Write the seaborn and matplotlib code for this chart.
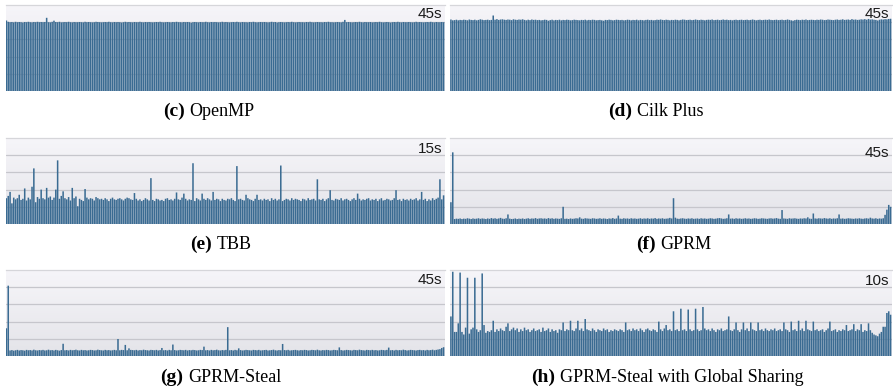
import numpy as np
import pandas as pd
import matplotlib
matplotlib.use("Agg")
import matplotlib.pyplot as plt
import seaborn as sns
from matplotlib.colors import LinearSegmentedColormap

sns.set_theme(style="white")

# ---------------- data (seconds per worker, 240 workers) ----------------
openmp = [
36.9,36.2,36.0,36.1,35.9,36.2,36.0,36.1,36.0,35.8,36.1,36.0,36.2,36.0,35.9,36.1,36.0,36.2,36.0,36.1,
36.0,36.1,38.3,36.0,35.9,36.2,36.8,36.1,36.0,36.2,35.9,36.0,36.1,36.0,36.2,36.0,35.9,36.1,36.0,36.0,
36.1,36.0,35.9,36.2,36.0,36.1,36.0,35.9,36.0,36.2,36.1,36.0,35.9,36.0,36.1,36.0,36.2,36.0,35.9,36.1,
36.0,36.1,36.0,35.8,36.0,36.2,36.0,36.1,36.0,35.9,36.1,36.0,36.0,36.2,36.0,35.9,36.1,36.0,36.1,36.0,
35.9,36.0,36.1,36.0,36.2,36.0,35.9,36.0,36.1,36.0,35.9,36.1,36.0,36.2,36.0,36.0,35.9,36.1,36.0,36.1,
36.0,35.7,36.0,36.1,36.0,35.9,36.1,36.0,36.0,36.2,36.0,35.9,36.1,36.0,36.1,36.0,35.9,36.0,36.2,36.0,
36.1,36.0,35.9,36.0,36.1,36.0,36.2,36.0,35.9,36.1,36.0,36.0,35.9,36.1,36.0,36.2,36.0,35.9,36.0,36.1,
36.0,36.1,36.0,35.9,36.0,36.2,36.0,36.1,35.8,36.0,36.1,36.0,35.9,36.0,36.1,36.0,36.2,36.0,35.9,36.0,
36.1,36.0,36.0,35.9,36.1,36.0,36.2,36.0,35.9,36.0,36.1,36.0,36.0,35.9,36.1,36.0,36.2,36.0,36.0,35.9,
36.0,36.1,36.0,35.9,36.2,37.2,36.0,36.1,36.0,35.9,36.0,36.1,36.0,36.2,36.0,35.9,36.1,36.0,36.0,36.1,
35.9,36.0,36.1,36.0,36.2,36.0,35.9,36.0,36.1,36.0,35.8,36.0,36.1,36.0,36.2,36.0,35.9,36.1,36.0,36.0,
36.1,36.0,35.9,36.0,36.2,36.0,36.1,36.0,35.9,36.0,36.1,36.0,36.2,36.0,35.9,36.1,36.0,36.0,36.1,36.0]

cilk = [
37.4,37.0,37.1,37.3,37.0,37.2,37.1,37.3,37.2,37.0,37.4,37.2,37.1,37.3,37.0,37.2,37.5,37.3,37.1,37.2,
37.3,37.1,37.2,39.5,37.3,37.6,37.2,37.4,37.5,37.3,37.2,37.4,37.3,37.1,37.5,37.3,37.2,37.4,37.3,37.5,
37.2,37.0,37.3,37.1,37.4,37.2,37.3,37.1,37.2,37.0,37.1,37.3,37.2,36.8,37.1,37.3,37.0,37.2,37.1,37.3,
37.0,37.2,37.1,37.3,37.2,37.0,37.1,37.3,37.2,37.1,37.0,37.2,37.1,37.3,37.0,37.2,37.1,37.3,37.2,37.0,
37.1,37.2,37.0,36.8,37.2,37.1,37.3,37.2,37.0,37.1,37.3,37.2,37.1,37.2,37.0,37.1,37.3,37.2,37.0,37.2,
37.1,37.3,37.0,37.2,37.1,37.0,37.2,37.3,37.1,37.2,37.0,37.1,37.3,37.2,37.4,37.2,37.1,37.3,37.2,37.0,
37.2,37.1,37.3,37.2,37.0,37.2,37.4,37.3,37.1,37.2,37.3,37.1,37.2,37.4,37.2,37.1,37.3,37.2,37.0,37.2,
37.3,37.2,37.4,37.1,37.2,37.3,37.1,37.2,37.4,37.2,37.3,37.1,37.2,37.0,37.2,37.3,37.1,37.2,37.3,37.1,
37.2,37.3,37.1,37.2,37.4,37.2,37.0,37.2,37.3,37.1,37.2,37.3,37.2,37.4,37.2,37.1,37.2,37.3,37.1,37.2,
37.3,37.1,37.2,37.4,37.2,37.0,36.8,37.1,37.3,37.2,37.1,37.3,37.2,37.4,37.1,37.2,37.3,37.2,37.1,37.3,
37.2,37.4,37.3,37.1,37.2,37.4,37.3,37.2,37.1,37.3,37.4,37.2,37.3,37.5,37.2,37.3,37.4,37.2,37.6,37.3,
37.4,37.2,37.3,37.5,37.4,37.6,37.3,37.7,37.4,37.5,37.3,37.2,36.9,37.3,37.5,37.4,37.6,37.5,37.7,37.8]

tbb = [
4.5,4.9,5.6,3.6,4.6,4.3,4.5,5.1,4.2,4.4,6.2,4.1,4.6,4.3,6.5,9.7,3.8,4.7,4.4,6.0,
4.5,4.3,6.3,4.6,4.8,4.2,4.6,6.0,11.1,4.4,4.9,5.7,4.5,4.3,4.7,4.1,6.3,4.5,4.8,3.1,
4.4,4.2,4.0,6.1,4.6,4.3,4.5,4.4,4.1,4.7,4.5,4.3,4.4,4.2,4.5,4.3,4.0,4.4,4.6,4.3,
4.2,4.4,4.5,4.3,4.1,4.4,4.6,4.5,4.3,4.2,5.4,4.4,4.1,4.3,4.0,4.2,4.5,4.3,4.1,8.0,
4.2,4.0,4.4,4.3,4.1,4.2,4.0,4.4,4.5,4.2,4.3,4.1,4.4,5.5,4.3,4.2,4.6,5.3,4.4,4.1,
4.3,4.2,10.6,4.0,4.5,4.3,4.1,5.3,4.4,4.2,4.5,4.3,4.1,5.6,4.2,4.4,4.3,4.0,4.4,4.2,
4.1,4.4,4.3,4.5,4.2,4.0,10.1,4.3,4.4,4.2,4.1,5.1,4.5,4.3,4.2,4.0,4.4,5.1,4.2,4.3,
4.1,4.4,4.2,4.3,4.0,4.5,4.2,4.4,4.1,4.3,10.2,4.0,4.2,4.4,4.3,4.1,4.5,4.2,4.4,4.3,
4.2,4.0,4.4,4.3,4.1,4.5,4.2,4.3,4.4,4.1,7.8,4.3,4.2,4.4,4.0,4.3,4.5,5.9,4.2,4.1,
4.4,4.3,4.2,4.5,4.1,4.3,4.4,4.2,4.0,4.3,4.5,4.2,5.3,4.4,4.1,4.3,4.2,4.4,4.5,4.1,
4.3,4.2,4.4,4.0,4.3,4.5,4.1,4.2,4.4,4.3,4.1,4.2,4.5,5.9,4.2,4.3,4.0,4.4,4.2,4.3,
4.1,4.4,4.2,4.3,4.5,4.1,4.3,5.6,4.2,4.4,4.0,4.3,4.1,4.5,4.2,4.4,4.6,7.8,4.3,5.0]

gprm = [
11.4,37.5,2.6,2.8,2.7,2.9,2.6,2.8,2.7,3.0,2.8,2.6,2.9,2.7,2.8,3.0,2.7,2.9,2.8,2.6,
2.9,2.7,3.1,2.8,3.0,2.7,2.9,3.2,2.8,2.7,3.0,5.0,2.8,2.6,2.7,2.9,2.6,2.8,2.7,2.9,
2.6,2.8,3.0,2.7,2.9,2.8,3.1,2.7,2.9,3.0,2.8,2.9,2.7,3.1,2.8,3.0,2.7,2.9,2.8,2.7,
3.0,9.0,2.7,2.8,2.6,2.9,2.7,2.8,3.0,2.9,3.5,2.8,2.7,3.0,2.9,2.8,2.7,3.0,2.9,2.7,
2.8,3.0,2.7,2.9,2.8,2.6,2.9,2.8,3.1,2.7,2.9,4.4,2.8,2.7,3.0,2.8,2.9,2.7,3.0,2.8,
2.9,2.7,2.8,3.0,2.7,2.9,2.8,3.0,2.7,2.9,2.8,3.1,2.7,2.9,2.8,3.0,2.7,2.8,2.9,3.2,
2.9,13.5,3.3,2.8,2.7,2.9,3.0,2.8,2.7,2.9,2.8,3.0,2.7,2.8,2.9,2.7,3.0,2.8,2.9,2.7,
2.8,3.0,2.9,2.7,2.8,3.0,3.1,2.9,2.7,2.8,3.0,5.0,2.8,2.9,2.7,3.0,2.8,2.9,2.7,2.8,
3.0,2.8,2.9,2.7,2.8,3.0,2.9,2.7,2.8,3.0,2.9,2.8,2.7,2.9,3.0,2.8,2.9,3.1,2.8,2.7,
7.3,2.9,2.8,2.7,3.0,2.8,2.9,3.0,2.8,2.7,2.9,2.8,3.0,2.9,3.5,2.8,2.7,5.5,2.9,2.8,
3.0,2.9,2.8,3.1,2.9,2.8,3.0,2.7,2.9,2.8,3.0,5.0,2.8,2.9,2.7,2.8,3.0,2.9,2.8,2.7,
2.9,2.8,3.0,2.8,2.7,2.9,3.0,2.8,3.3,2.9,2.8,3.0,2.7,2.9,2.8,3.0,4.8,7.5,10.0,9.0]

gprm_steal = [
14.5,36.8,2.9,3.1,2.8,3.0,3.2,2.9,3.1,3.0,2.8,3.2,3.0,3.1,2.9,3.3,3.0,2.9,3.1,3.0,
3.2,2.9,3.0,3.3,3.0,3.1,2.9,3.2,3.0,2.8,3.1,6.4,3.0,3.1,2.9,3.2,3.0,3.1,3.3,3.0,
2.9,3.2,3.0,3.1,2.9,3.0,3.2,3.1,2.9,3.0,3.3,3.1,3.0,2.9,3.2,3.0,3.1,2.9,3.0,3.2,
3.0,8.9,3.0,3.2,3.1,5.8,3.0,4.0,3.2,3.1,3.0,3.2,2.9,3.1,3.0,3.3,3.1,3.0,2.9,3.2,
3.1,3.0,3.2,2.9,3.1,4.2,3.0,3.1,2.9,3.2,3.0,6.0,3.1,2.9,3.0,3.2,3.1,3.0,3.2,2.9,
3.1,3.0,3.2,3.1,2.9,3.0,3.2,3.1,4.9,3.0,3.1,2.9,3.2,3.0,3.1,3.3,3.0,2.9,3.1,3.0,
3.2,15.1,3.0,3.1,2.9,3.2,3.0,4.0,3.1,2.9,3.0,3.2,3.1,3.0,2.9,3.2,3.1,3.0,3.2,2.9,
3.0,3.1,3.2,2.9,3.0,3.1,3.3,3.0,2.9,3.1,3.0,6.3,3.1,3.0,3.2,2.9,3.0,3.1,3.2,3.0,
2.9,3.1,3.0,3.2,3.1,2.9,3.0,3.2,3.1,3.0,3.3,3.0,2.9,3.1,3.0,3.2,3.1,2.9,3.0,3.2,
3.1,3.0,4.5,3.1,2.9,3.0,3.2,3.1,3.0,2.9,3.2,3.1,3.0,3.3,3.1,3.0,2.9,3.2,3.1,3.0,
3.2,3.0,3.1,2.9,3.0,3.2,3.1,3.0,3.2,4.4,3.0,3.1,2.9,3.2,3.0,3.1,3.0,3.3,3.1,2.9,
3.0,3.2,3.1,3.0,2.9,3.1,3.2,3.0,3.1,2.9,3.2,3.0,3.1,3.3,3.0,3.2,3.4,3.6,4.2,4.6]

gprm_steal_global = [
4.6,9.8,2.8,2.8,3.8,9.7,2.8,2.5,3.3,9.1,2.6,3.1,3.3,9.1,3.1,2.8,3.0,9.6,3.6,2.7,
2.9,2.8,3.0,4.1,2.8,3.1,2.9,3.2,3.0,2.9,3.4,3.8,2.9,3.1,3.3,3.0,3.2,2.8,3.1,2.9,
3.3,3.0,3.1,2.8,3.0,3.2,2.9,3.0,3.1,2.8,3.3,2.9,3.0,3.2,2.8,3.1,2.9,3.0,2.7,3.1,
3.0,3.9,2.9,3.1,3.0,4.1,3.0,2.9,3.2,4.1,3.0,3.2,2.9,4.3,3.1,3.0,2.9,3.2,3.0,2.8,
3.1,3.0,2.9,3.2,3.0,3.1,2.8,3.0,2.9,3.1,3.0,2.9,3.1,3.0,2.8,3.9,3.0,3.1,2.9,3.2,
3.0,3.1,2.9,3.2,3.0,2.8,3.1,3.2,3.0,2.9,3.1,3.0,2.8,4.0,3.1,2.9,3.2,3.6,3.0,3.1,
2.9,5.2,3.0,3.1,2.9,5.5,3.0,3.1,2.9,5.4,3.1,2.9,3.0,5.5,3.1,2.9,3.0,5.7,3.2,3.0,
3.1,2.9,3.2,3.0,2.8,3.1,3.0,3.2,2.9,3.0,3.1,4.6,3.0,2.9,3.1,3.9,3.0,2.8,3.1,3.9,
3.0,3.2,2.9,3.9,3.1,3.0,2.9,3.9,3.0,3.1,2.9,3.2,3.0,2.9,3.1,3.0,3.2,2.9,3.0,3.1,
2.9,3.9,3.1,3.0,2.8,4.0,3.0,3.1,2.9,4.1,3.0,3.2,2.9,4.1,3.1,3.0,2.9,4.0,3.0,3.1,
2.9,3.0,3.1,2.8,3.0,3.2,4.0,2.9,3.0,3.1,2.8,3.0,2.9,3.1,3.0,3.6,2.9,3.0,3.1,3.7,
2.9,3.1,3.0,3.7,2.8,3.0,2.9,3.8,3.0,2.7,2.5,2.4,2.3,2.6,2.8,3.4,3.4,5.0,5.2,4.8]

panel_letters = ["(c)", "(d)", "(e)", "(f)", "(g)", "(h)"]
panel_names = ["OpenMP", "Cilk Plus", "TBB", "GPRM", "GPRM-Steal",
               "GPRM-Steal with Global Sharing"]
scale_labels = ["45s", "45s", "15s", "45s", "45s", "10s"]
scale_max = [45, 45, 15, 45, 45, 10]
series = [openmp, cilk, tbb, gprm, gprm_steal, gprm_steal_global]

# ---------------- layout (pixel geometry) ----------------
W, H = 893, 391
fig = plt.figure(figsize=(W / 100, H / 100), dpi=100)
fig.patch.set_facecolor("white")

cols = [(5.5, 444.5), (450, 891.5)]
rows = [(5, 91), (138, 224), (270, 356)]
label_tops = [7, 7, 142, 146, 273, 274]
caption_base = [116, 116, 249, 249, 382, 382]
caption_x = [163, 608, 190, 636, 160, 531]

bg_cmap = LinearSegmentedColormap.from_list("bg", ["#e4e4e9", "#f6f5f9"])
bar_color = "#3a6b92"

for i, vals in enumerate(series):
    r, c = divmod(i, 2)
    x0, x1 = cols[c]
    t, b = rows[r]
    ax = fig.add_axes([x0 / W, 1 - b / H, (x1 - x0) / W, (b - t) / H])
    n = len(vals)
    df = pd.DataFrame({"worker": np.arange(n), "seconds": vals})
    top = scale_max[i]
    grad = np.linspace(0, 1, 100)[:, None]
    ax.imshow(grad, extent=[-0.5, n - 0.5, 0, top], aspect="auto",
              cmap=bg_cmap, origin="lower", zorder=0)
    for k in range(1, 5):
        ax.axhline(top * k / 5, color="#c6c6cc", lw=0.9, zorder=1)
    sns.barplot(data=df, x="worker", y="seconds", native_scale=True,
                color=bar_color, saturation=1, width=0.84, linewidth=0,
                ax=ax, zorder=2)
    for p in ax.patches:
        p.set_snap(False)
    ax.set_xlim(-0.5, n - 0.5)
    ax.set_ylim(0, top)
    ax.set_xlabel("")
    ax.set_ylabel("")
    ax.set_xticks([])
    ax.set_yticks([])
    for s in ["left", "right", "bottom"]:
        ax.spines[s].set_visible(False)
    ax.spines["top"].set_color("#d6d6da")
    ax.spines["top"].set_linewidth(0.9)

    fig.text((x1 - 2) / W, 1 - label_tops[i] / H, scale_labels[i],
             ha="right", va="top", fontsize=11, color="#1a1a1a",
             family="Liberation Sans")

    lt = fig.text(caption_x[i] / W, 1 - caption_base[i] / H, panel_letters[i],
                  ha="left", va="baseline", fontsize=14, fontweight="bold",
                  family="Liberation Serif", color="black")
    fig.canvas.draw()
    bb = lt.get_window_extent()
    fig.text((bb.x1 + 5) / W, 1 - caption_base[i] / H, panel_names[i],
             ha="left", va="baseline", fontsize=13, family="Liberation Serif",
             color="black")

fig.savefig("out.png", dpi=100, facecolor="white")
